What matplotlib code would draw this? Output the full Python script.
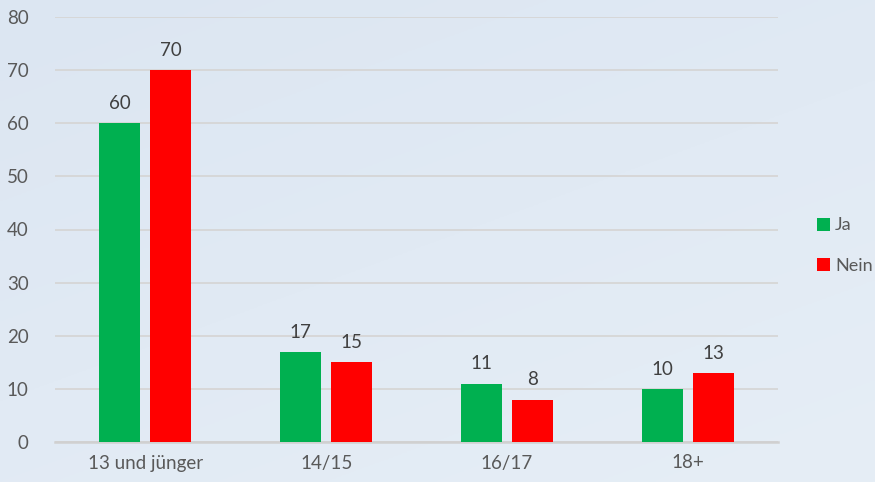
import matplotlib
matplotlib.use("Agg")
import matplotlib.pyplot as plt
import numpy as np

categories = ["13 und jünger", "14/15", "16/17", "18+"]
ja = [60, 17, 11, 10]
nein = [70, 15, 8, 13]
series_names = ["Ja", "Nein"]
colors = ["#00B050", "#FF0000"]
yticks = [0, 10, 20, 30, 40, 50, 60, 70, 80]

plt.rcParams['font.family'] = ['Lato', 'DejaVu Sans']
W, H = 875, 482
fig = plt.figure(figsize=(W/100, H/100), dpi=100)

# background gradient
bg = fig.add_axes([0, 0, 1, 1], zorder=-10)
yy, xx = np.mgrid[0:1:200j, 0:1:200j]
t = 0.6*yy + 0.4*xx
c0 = np.array([220, 230, 242]) / 255
c1 = np.array([230, 238, 246]) / 255
img = c0[None, None, :]*(1-t[..., None]) + c1[None, None, :]*t[..., None]
bg.imshow(img, aspect='auto', extent=[0, 1, 0, 1], origin='upper')
bg.axis('off')

fs = 13.5
ax = fig.add_axes([55/W, 1-442/H, (778-55)/W, (442-17)/H])
ax.patch.set_alpha(0)
x = np.arange(len(categories))
bw = 0.227
off = 0.141
b1 = ax.bar(x-off, ja, bw, color=colors[0], label=series_names[0], zorder=3)
b2 = ax.bar(x+off, nein, bw, color=colors[1], label=series_names[1], zorder=3)
for bars, vals in ((b1, ja), (b2, nein)):
    for b, v in zip(bars, vals):
        ax.text(b.get_x()+b.get_width()/2, v+2.1, str(v), ha='center', va='bottom',
                fontsize=fs, color='#404040')

ax.set_xlim(-0.5, len(categories)-0.5)
ax.set_ylim(0, 80)
ax.set_yticks(yticks)
ax.set_yticklabels([str(v) for v in yticks])
ax.set_xticks(x)
ax.set_xticklabels(categories)
ax.tick_params(axis='both', length=0, labelsize=fs, colors='#595959')
ax.tick_params(axis='y', pad=19)
ax.tick_params(axis='x', pad=9)
ax.grid(axis='y', color='#d6d6d6', linewidth=1.3, zorder=0)
for s in ['top', 'right', 'left']:
    ax.spines[s].set_visible(False)
ax.spines['bottom'].set_color('#d0d0d0')
ax.spines['bottom'].set_linewidth(1.8)

leg = fig.legend(handles=[b1, b2], labels=series_names, loc='upper left',
                 bbox_to_anchor=(812/W, 1-212/H), frameon=False, fontsize=13,
                 handlelength=0.72, handleheight=0.72, handletextpad=0.25,
                 labelspacing=1.35, labelcolor='#595959', borderpad=0.3,
                 borderaxespad=0)

fig.savefig("out.png", dpi=100)
